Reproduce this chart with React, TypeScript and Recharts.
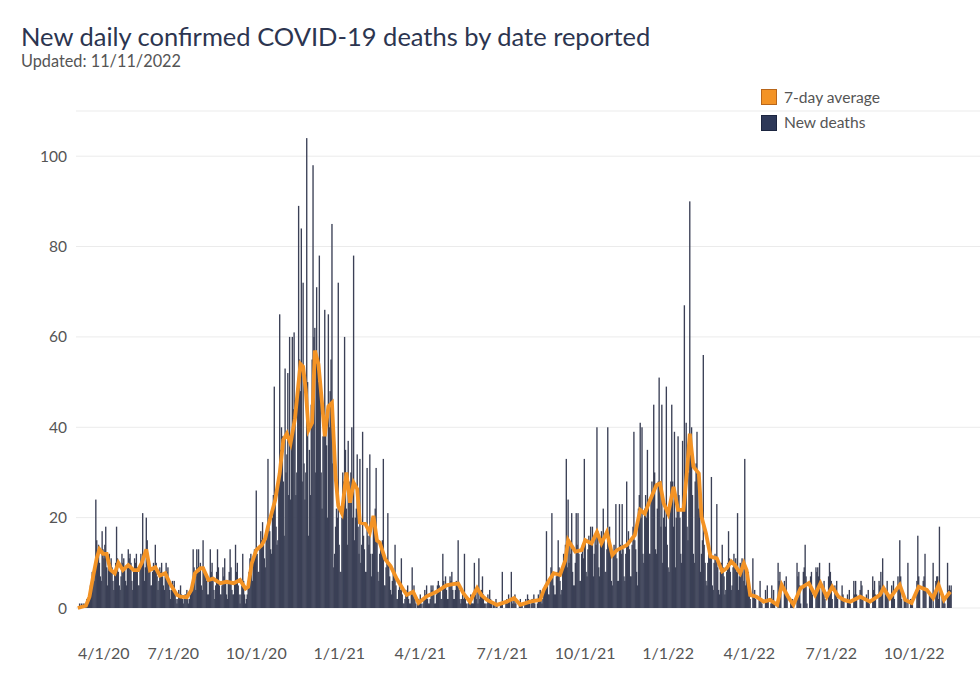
import React from 'react';
import { ComposedChart, Bar, Line, XAxis, YAxis, CartesianGrid } from 'recharts';

// Daily new deaths, weeks Sun..Sat, first day = Sunday 3/15/2020
const deathsByWeek2020: number[][] = [
  [0,0,0,0,1,0,1],[0,1,0,1,1,2,1],[2,3,5,4,8,7,6],[8,24,15,12,14,10,7],
  [6,17,13,11,14,18,9],[5,9,12,10,11,9,6],[4,8,10,18,11,8,5],[4,7,12,10,11,9,6],
  [5,9,13,11,12,10,6],[4,8,11,10,12,9,5],[5,9,12,10,21,11,6],[9,20,15,11,9,8,5],
  [5,8,10,9,14,10,7],[4,6,9,8,10,7,5],[4,7,10,8,9,6,4],[2,4,6,5,6,4,2],
  [1,2,4,3,5,3,2],[1,2,3,3,4,2,1],[2,3,4,5,13,9,7],[4,13,9,13,8,10,5],
  [4,15,9,8,7,6,3],[3,6,13,8,10,6,4],[2,5,8,13,9,5,3],[3,5,9,7,11,6,3],
  [2,6,8,13,9,4,3],[3,6,14,8,10,5,3],[1,3,5,12,6,3,1],[2,3,6,8,11,12,9],
  [6,10,13,12,26,12,8],[8,13,17,15,19,14,11],[9,15,18,33,20,17,13],[12,20,25,49,26,18,14],
  [15,30,65,35,40,38,28],[16,53,30,34,52,25,60],[24,38,60,44,61,46,25],[30,50,89,55,48,84,28],
  [72,32,24,30,104,50,16],[35,25,45,55,98,60,62],[30,71,55,50,78,48,30],[22,38,45,66,42,36,20],
  [65,40,48,55,85,32,9],[12,18,22,20,72,14,8],
];

const deathsByWeek2021: number[][] = [
  [8,20,30,28,60,35,22],[14,37,28,25,30,40,20],[78,15,20,22,34,18,12],[33,10,14,39,16,13,8],
  [8,31,16,14,34,12,7],[12,18,20,22,31,15,8],[6,12,14,13,15,33,5],[5,9,11,21,10,7,4],
  [3,6,8,7,14,5,2],[2,4,5,4,11,3,1],[1,2,4,3,5,2,1],[1,3,9,4,5,2,1],
  [0,1,2,1,3,1,0],[1,2,4,3,5,2,1],[1,2,5,4,5,3,1],[1,3,5,6,5,4,2],
  [2,12,6,5,7,4,2],[2,5,7,6,8,4,2],[2,4,6,5,15,4,2],[1,2,3,2,12,2,1],
  [0,1,2,2,3,1,1],[1,10,3,2,4,1,11],[2,3,4,7,3,1,1],[0,1,3,2,4,2,1],
  [0,1,1,0,2,1,0],[0,0,1,1,8,0,0],[0,1,2,1,3,2,0],[8,1,2,1,3,1,0],
  [0,0,1,2,1,1,0],[0,1,2,1,3,2,1],[0,1,2,2,3,1,0],[0,1,3,2,4,2,1],
  [2,3,5,4,17,6,3],[3,6,9,21,8,5,3],[3,7,8,15,9,6,3],[4,8,12,10,14,33,9],
  [24,10,14,12,21,8,5],[5,10,21,14,21,12,6],[6,12,14,11,33,15,8],[7,13,16,14,18,15,18],
  [7,12,16,14,40,17,9],[7,14,17,15,22,16,8],[8,13,40,15,18,12,6],[5,12,14,13,23,11,6],
  [6,23,14,12,23,13,7],[6,12,28,14,17,13,7],[7,14,18,39,15,13,8],[5,22,25,41,20,40,12],
  [10,22,25,20,35,24,12],[12,25,28,26,45,30,13],[12,22,28,51,26,18,45],[10,20,22,18,49,14,9],
];

const deathsByWeek2022: number[][] = [
  [8,22,28,45,28,18,39],[9,20,24,38,25,20,12],[10,37,22,67,26,41,18],[15,30,90,35,40,25,12],
  [10,28,32,39,30,22,25],[8,12,15,56,14,10,6],[5,10,12,11,13,29,5],[4,10,12,11,23,9,4],
  [3,8,10,14,9,7,3],[4,8,10,17,11,8,4],[5,9,12,10,11,8,21],[4,7,10,8,11,9,6],
  [33,5,7,6,8,4,2],[0,0,11,3,4,2,0],[0,0,2,6,2,1,0],[0,0,4,2,5,2,0],
  [0,1,5,2,4,1,0],[0,0,10,6,8,5,0],[0,0,6,4,7,3,0],[0,0,2,1,2,0,0],
  [0,0,10,7,8,5,1],[0,0,8,9,14,7,1],[0,0,6,7,8,3,0],[0,0,9,8,9,7,10],
  [0,0,5,4,6,2,0],[0,0,7,10,8,6,2],[0,0,5,4,6,2,0],[0,0,2,5,3,2,0],
  [0,0,3,2,4,1,0],[0,0,6,3,6,3,0],[0,0,4,6,5,2,0],[0,0,3,2,4,1,0],
  [0,0,7,4,6,3,0],[0,0,6,5,8,4,11],[0,0,4,3,6,2,0],[0,0,5,3,6,2,0],
  [0,0,7,5,15,7,2],[0,0,3,2,2,0,10],[0,0,2,2,2,0,0],[0,0,6,16,7,4,0],
  [0,0,6,7,12,4,0],[0,0,3,3,3,0,10],[0,0,6,7,7,2,18],[0,0,3,3,2,1,0],
  [0,10,4,5,4,5],
];

// 7-day average: [day index from 3/15/2020, value]
const avgPoints: [number, number][] = [
  [2,0],[11,0.5],[15,2.5],[19,7],[23,11],[26,13],[30,12],[34,12],[38,8.5],[43,7.7],[47,10],
  [52,8.4],[58,9.5],[64,8.4],[69,8.4],[73,10],[78,13],[82,8.4],[88,9],[93,7.2],[99,7.7],
  [104,5.5],[112,2.9],[116,2.5],[123,2.4],[128,4],[132,7.7],[138,8.8],[141,8.8],[147,6.2],
  [152,6.5],[160,5.5],[167,5.8],[175,5.5],[182,6.2],[188,4.3],[191,4.7],[195,9.9],[200,12.8],
  [206,13.9],[210,15.4],[213,18],[221,23.9],[226,29.8],[230,37.2],[234,38.6],[238,36.4],
  [243,42],[249,54],[252,53.4],[255,48],[258,39.4],[262,41],[265,57],[269,54],[273,45.4],
  [276,38],[280,44.6],[284,45.4],[288,29],[291,22.6],[295,21],[300,30],[304,23.3],[308,27.7],
  [312,26.3],[315,18.9],[321,18.6],[326,16.7],[330,20.4],[334,14.9],[337,14.5],[343,10.8],
  [349,9.3],[356,6.4],[363,4.1],[367,2.9],[374,3.6],[380,1.1],[389,2.6],[400,3.6],[411,5],
  [418,5.3],[424,5.4],[430,3.2],[437,1.4],[445,4.4],[450,2.8],[456,1.8],[467,0.7],[478,1.4],
  [486,2.2],[493,0.7],[504,1.4],[515,1.8],[519,4],[524,5.8],[530,7.7],[537,7.3],[543,10.6],
  [546,15],[554,12.5],[561,12.8],[565,15],[572,14.3],[578,16.8],[583,14.3],[589,16.8],
  [595,11.7],[600,12.8],[604,13.2],[611,13.9],[620,16.1],[626,21.7],[631,20.9],[637,23.9],
  [644,27.2],[648,27.6],[652,23.2],[657,20.9],[663,26.8],[668,21.7],[674,21.7],[678,30.5],
  [681,38.6],[685,31.3],[691,29.8],[694,20.2],[699,16.5],[704,11.4],[711,11],[717,8.1],
  [722,8.8],[727,10.3],[731,9.5],[737,7.7],[741,9.9],[744,8.4],[748,2.9],[755,2.5],[763,1.4],
  [770,1.8],[778,0.7],[783,5.1],[790,2.5],[796,0.7],[804,4.4],[813,5.5],[820,2.9],[826,5.5],
  [833,2.5],[839,4.7],[846,2.5],[852,1.8],[859,1.4],[870,2.5],[881,1.4],[892,2.9],[896,4.4],
  [903,2.2],[914,5.1],[920,1.8],[927,1.1],[935,4.7],[944,4],[951,2.2],[957,5.1],[963,1.8],
  [970,3.6],
];

const tickDays = [17, 108, 200, 292, 382, 473, 565, 657, 747, 838, 930];
const tickLabels = ['4/1/20','7/1/20','10/1/20','1/1/21','4/1/21','7/1/21','10/1/21','1/1/22','4/1/22','7/1/22','10/1/22'];
const yTicks = [0, 20, 40, 60, 80, 100];

const daily = [...deathsByWeek2020, ...deathsByWeek2021, ...deathsByWeek2022].flat();
const avgMap = new Map<number, number>(avgPoints);
const data = daily.map((v, i) => ({ day: i, deaths: v, avg: avgMap.has(i) ? avgMap.get(i) : null }));

const FONT = 'Lato, "Open Sans", sans-serif';
const PLOT_LEFT = 76;
const BAR_W = 1.35;

const XTick = (props: any) => {
  const { x, y, payload, index } = props;
  const label = tickLabels[tickDays.indexOf(payload.value)];
  const first = index === 0;
  return (
    <text x={first ? PLOT_LEFT + 2 : x} y={y + 51} textAnchor={first ? 'start' : 'middle'}
      fill="#555" fontSize={16} fontFamily={FONT}>{label}</text>
  );
};

const DayBar = (props: any) => {
  const { x, y, width, height, fill } = props;
  if (!height || height <= 0) return null;
  const cx = x + width / 2;
  return <rect x={cx - BAR_W / 2} y={y} width={BAR_W} height={height} fill={fill} />;
};

export default function App() {
  return (
    <div style={{ position: 'absolute', left: 0, top: 0, width: 980, height: 686, background: '#fff', fontFamily: FONT }}>
      <ComposedChart width={980} height={686} data={data} margin={{ top: 111, right: 0, bottom: 0, left: 0 }}>
        <CartesianGrid vertical={false} stroke="#ebebeb" />
        <XAxis dataKey="day" type="number" domain={[0, 1003]} ticks={tickDays} interval={0}
          tick={<XTick />} tickLine={false} axisLine={false} height={78} tickSize={0} tickMargin={0} allowDataOverflow />
        <YAxis domain={[0, 110]} ticks={yTicks} interval={0} width={PLOT_LEFT} tickLine={false} axisLine={false}
          tickSize={0} tickMargin={9} tick={{ fill: '#555', fontSize: 15.5, fontFamily: FONT }} />
        <Bar dataKey="deaths" fill="#3b4056" shape={<DayBar />} isAnimationActive={false} />
        <Line dataKey="avg" type="linear" stroke="#f39325" strokeWidth={3.8} dot={false} activeDot={false}
          connectNulls isAnimationActive={false} />
      </ComposedChart>
      <svg width={980} height={140} style={{ position: 'absolute', left: 0, top: 0, pointerEvents: 'none' }}>
        <text x={21} y={46} fontSize={25.5} fill="#2c3550" fontFamily={FONT}>New daily confirmed COVID-19 deaths by date reported</text>
        <text x={21} y={67} fontSize={16.3} fill="#555" fontFamily={FONT}>Updated: 11/11/2022</text>
        <rect x={761.5} y={89.5} width={15} height={15} fill="#f39325" stroke="#b8661a" strokeWidth={1} />
        <text x={784} y={103} fontSize={15.6} fill="#555" fontFamily={FONT}>7-day average</text>
        <rect x={761.5} y={115.5} width={15} height={15} fill="#2d3858" stroke="#1c2540" strokeWidth={1} />
        <text x={784} y={128} fontSize={15.6} fill="#555" fontFamily={FONT}>New deaths</text>
      </svg>
    </div>
  );
}
